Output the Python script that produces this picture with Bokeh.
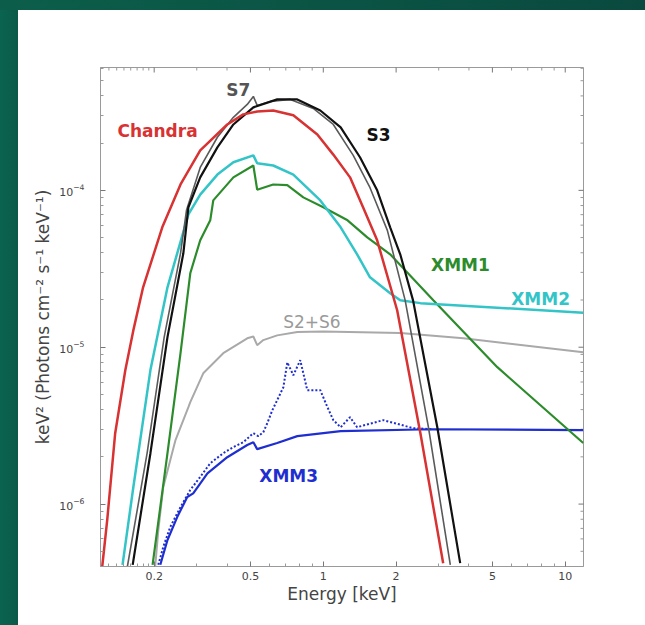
import math
from bokeh.plotting import figure
from bokeh.models import FixedTicker, Label
from bokeh.embed import file_html
from bokeh.resources import INLINE

# ---------------- data ----------------
chandra_e = [0.122, 0.128, 0.138, 0.152, 0.164, 0.180, 0.216, 0.257, 0.310, 0.401, 0.467, 0.533,
             0.621, 0.752, 0.945, 1.10, 1.29, 1.46, 1.67, 2.02, 2.52, 3.13]
chandra_f = [4.0e-7, 8.0e-7, 2.83e-6, 7.15e-6, 1.28e-5, 2.41e-5, 5.81e-5, 1.09e-4, 1.80e-4, 2.63e-4,
             3.05e-4, 3.18e-4, 3.23e-4, 3.01e-4, 2.27e-4, 1.69e-4, 1.21e-4, 7.8e-5, 4.8e-5, 1.72e-5,
             2.83e-6, 4.2e-7]

s3_e = [0.163, 0.193, 0.227, 0.264, 0.277, 0.310, 0.365, 0.425, 0.514, 0.645, 0.781, 0.972, 1.18,
        1.42, 1.67, 1.89, 2.08, 2.35, 2.96, 3.68]
s3_f = [4.1e-7, 2.11e-6, 1.16e-5, 3.97e-5, 7.8e-5, 1.21e-4, 1.88e-4, 2.63e-4, 3.38e-4, 3.80e-4,
        3.80e-4, 3.23e-4, 2.52e-4, 1.62e-4, 1.0e-4, 5.81e-5, 3.91e-5, 1.99e-5, 3.09e-6, 4.2e-7]

s7_e = [0.155, 0.187, 0.220, 0.257, 0.272, 0.310, 0.365, 0.425, 0.485, 0.514, 0.533, 0.604, 0.731,
        0.909, 1.10, 1.33, 1.56, 1.84, 2.18, 2.72, 3.35]
s7_f = [4.0e-7, 2.11e-6, 1.16e-5, 3.97e-5, 7.46e-5, 1.40e-4, 2.18e-4, 2.92e-4, 3.53e-4, 3.97e-4,
        3.48e-4, 3.69e-4, 3.80e-4, 3.33e-4, 2.63e-4, 1.67e-4, 1.04e-4, 5.56e-5, 1.99e-5, 3.09e-6, 4.1e-7]

xmm1_e = [0.197, 0.227, 0.257, 0.282, 0.310, 0.341, 0.351, 0.425, 0.514, 0.533, 0.621, 0.710, 0.827,
          1.0, 1.26, 1.52, 1.89, 2.85, 5.24, 11.87]
xmm1_f = [4.1e-7, 2.11e-6, 9.16e-6, 2.96e-5, 4.81e-5, 6.44e-5, 8.63e-5, 1.21e-4, 1.44e-4, 1.01e-4,
          1.09e-4, 1.08e-4, 9.02e-5, 7.8e-5, 6.44e-5, 5.02e-5, 3.91e-5, 1.99e-5, 7.46e-6, 2.45e-6]

xmm2_e = [0.148, 0.164, 0.193, 0.227, 0.277, 0.310, 0.365, 0.425, 0.514, 0.533, 0.621, 0.752, 0.972,
          1.18, 1.38, 1.56, 1.89, 2.08, 2.52, 11.87]
xmm2_f = [4.1e-7, 1.28e-6, 7.15e-6, 2.41e-5, 7.03e-5, 9.4e-5, 1.26e-4, 1.51e-4, 1.67e-4, 1.49e-4,
          1.44e-4, 1.26e-4, 8.63e-5, 5.81e-5, 3.91e-5, 2.79e-5, 2.21e-5, 1.99e-5, 1.91e-5, 1.66e-5]

s26_e = [0.202, 0.208, 0.218, 0.245, 0.277, 0.282, 0.319, 0.386, 0.485, 0.514, 0.533, 0.565, 0.645,
         0.781, 1.0, 2.08, 3.79, 11.87]
s26_f = [4.0e-7, 6.8e-7, 1.28e-6, 2.56e-6, 4.15e-6, 4.47e-6, 6.82e-6, 9.16e-6, 1.14e-5, 1.17e-5,
         1.03e-5, 1.11e-5, 1.19e-5, 1.25e-5, 1.26e-5, 1.23e-5, 1.14e-5, 9.29e-6]

xmm3_e = [0.212, 0.227, 0.249, 0.274, 0.290, 0.332, 0.401, 0.485, 0.514, 0.533, 0.645, 0.781, 1.18,
          2.77, 11.87]
xmm3_f = [4.1e-7, 5.9e-7, 8.26e-7, 1.11e-6, 1.17e-6, 1.57e-6, 1.99e-6, 2.38e-6, 2.48e-6, 2.24e-6,
          2.45e-6, 2.71e-6, 2.92e-6, 3.0e-6, 2.96e-6]

xmm3l_e = [0.208, 0.218, 0.233, 0.257, 0.282, 0.310, 0.341, 0.386, 0.425, 0.467, 0.514, 0.539, 0.565,
           0.587, 0.616, 0.645, 0.684, 0.710, 0.752, 0.803, 0.859, 0.972, 1.04, 1.10, 1.18, 1.29,
           1.38, 1.77, 2.35, 2.80]
xmm3l_f = [4.1e-7, 5.32e-7, 7.14e-7, 9.58e-7, 1.23e-6, 1.49e-6, 1.82e-6, 2.11e-6, 2.31e-6, 2.48e-6,
           2.83e-6, 2.71e-6, 2.87e-6, 3.28e-6, 3.97e-6, 4.6e-6, 5.56e-6, 8.0e-6, 6.63e-6, 8.26e-6,
           5.32e-6, 5.32e-6, 4.15e-6, 3.43e-6, 3.09e-6, 3.58e-6, 3.09e-6, 3.43e-6, 3.05e-6, 3.0e-6]

x_tick_values = [0.2, 0.5, 1, 2, 5, 10]
x_tick_labels = ["0.2", "0.5", "1", "2", "5", "10"]
x_minor = [0.13, 0.14, 0.15, 0.16, 0.17, 0.18, 0.19, 0.3, 0.4, 0.6, 0.7, 0.8, 0.9,
           3, 4, 6, 7, 8, 9]
y_tick_values = [1e-6, 1e-5, 1e-4]
y_minor = [m * 10.0 ** k for k in (-7, -6, -5, -4) for m in range(2, 10)]

label_names = ["Chandra", "S7", "S3", "XMM1", "XMM2", "S2+S6", "XMM3"]
label_e = [0.141, 0.397, 1.51, 2.79, 5.98, 0.683, 0.544]
label_f = [2.38e-4, 4.34e-4, 2.24e-4, 3.33e-5, 2.02e-5, 1.44e-5, 1.51e-6]

# ---------------- styles ----------------
RED = "#d83232"
BLACK = "#111111"
S7C = "#5a5a5a"
GREEN = "#2c8c2c"
CYAN = "#33c4c8"
LGRAY = "#a9a9a9"
BLUE = "#1f2ed0"
label_colors = [RED, "#555555", BLACK, GREEN, CYAN, "#9a9a9a", BLUE]
label_styles = ["bold", "bold", "bold", "bold", "bold", "normal", "bold"]

XR = (0.12, 11.9)
YR = (4.0e-7, 6.07e-4)
W, H = 645, 625

p = figure(width=W, height=H, x_axis_type="log", y_axis_type="log",
           x_range=XR, y_range=YR,
           output_backend="svg", toolbar_location=None,
           min_border_left=100, min_border_top=67, min_border_right=62, min_border_bottom=59)
# transparent canvas border so that the host's CSS background (green page band) shows
p.border_fill_color = "white"
p.border_fill_alpha = 0
p.background_fill_color = "white"
p.outline_line_color = "#9a9a9a"
p.grid.visible = False
p.styles = {
    "background": "linear-gradient(to right, #0c5e4b 0px, #0a4a3e 645px) top / 100% 10px no-repeat, "
                  "linear-gradient(to right, #0a6450 0px, #0b5a48 18px, #ffffff 18px)",
}

xt = FixedTicker(ticks=x_tick_values, minor_ticks=x_minor)
yt = FixedTicker(ticks=y_tick_values, minor_ticks=y_minor)

for ax in (p.xaxis[0], p.yaxis[0]):
    ax.axis_line_color = "#9a9a9a"
    ax.major_tick_line_color = "#777777"
    ax.minor_tick_line_color = "#999999"
    ax.major_tick_in = 5
    ax.major_tick_out = 0
    ax.minor_tick_in = 3
    ax.minor_tick_out = 0
    ax.major_label_text_font = "DejaVu Sans"
    ax.major_label_text_color = "#444444"
    ax.major_label_text_font_size = "11px"
    ax.axis_label_text_font = "DejaVu Sans"
    ax.axis_label_text_font_style = "normal"
    ax.axis_label_text_color = "#444444"
    ax.axis_label_text_font_size = "17px"

p.xaxis.ticker = xt
p.yaxis.ticker = yt
p.xaxis.major_label_overrides = {v: s for v, s in zip(x_tick_values, x_tick_labels)}
p.xaxis.axis_label = "Energy [keV]"
p.yaxis.axis_label = "keV\u00b2 (Photons cm\u207b\u00b2 s\u207b\u00b9 keV\u207b\u00b9)"
p.xaxis.major_label_standoff = 5
p.yaxis.major_label_standoff = 16
p.xaxis.axis_label_standoff = 1
p.yaxis.axis_label_standoff = 3

# mirrored ticks on the top and right edges (half of each dash is clipped by the frame)
p.scatter(x_tick_values, [YR[1]] * len(x_tick_values), marker="dash", size=10,
          angle=math.pi / 2, line_color="#777777", line_width=1)
p.scatter(x_minor, [YR[1]] * len(x_minor), marker="dash", size=6,
          angle=math.pi / 2, line_color="#999999", line_width=1)
p.scatter([XR[1]] * len(y_tick_values), y_tick_values, marker="dash", size=10,
          line_color="#777777", line_width=1)
p.scatter([XR[1]] * len(y_minor), y_minor, marker="dash", size=6,
          line_color="#999999", line_width=1)

p.line(s26_e, s26_f, line_color=LGRAY, line_width=2)
p.line(xmm3l_e, xmm3l_f, line_color=BLUE, line_width=2, line_dash="2 2")
p.line(xmm3_e, xmm3_f, line_color=BLUE, line_width=2.2)
p.line(xmm1_e, xmm1_f, line_color=GREEN, line_width=2.2)
p.line(xmm2_e, xmm2_f, line_color=CYAN, line_width=2.5)
p.line(s7_e, s7_f, line_color=S7C, line_width=1.6)
p.line(s3_e, s3_f, line_color=BLACK, line_width=2.2)
p.line(chandra_e, chandra_f, line_color=RED, line_width=2.5)

for name, e, f, c, st in zip(label_names, label_e, label_f, label_colors, label_styles):
    p.add_layout(Label(x=e, y=f, text=name, text_color=c, text_font="DejaVu Sans",
                       text_font_style=st, text_font_size="17px",
                       text_align="left", text_baseline="middle"))

open("out.html", "w").write(file_html(p, INLINE))
